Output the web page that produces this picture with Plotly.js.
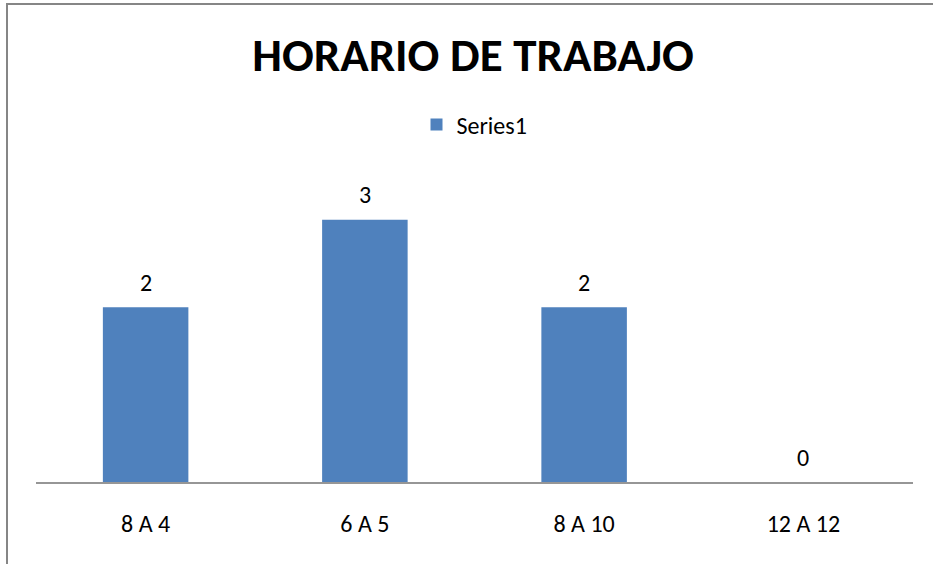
<!DOCTYPE html>
<html>
<head>
<meta charset="utf-8">
<script src="https://cdn.plot.ly/plotly-3.0.1.min.js"></script>
<style>
  body { margin: 0; background: #fff; }
  #wrap { position: relative; width: 933px; height: 564px; }
  #plot { width: 933px; height: 564px; }
  #frame { position: absolute; left: 6px; top: 3px; right: -10px; bottom: -10px;
           border-left: 2px solid #868686; border-top: 2px solid #868686; pointer-events: none; }
</style>
</head>
<body>
<div id="wrap">
  <div id="plot"></div>
  <div id="frame"></div>
</div>
<script>
const categories = ["8 A 4", "6 A 5", "8 A 10", "12 A 12"];
const values = [2, 3, 2, 0];
const series_name = "Series1";
const chart_title = "HORARIO DE TRABAJO";

const font_family = "Carlito, Calibri, 'Liberation Sans', Arial, sans-serif";

let data = [
    {
        type: "bar",
        x: categories,
        y: values,
        name: series_name,
        marker: { color: "#4F81BD" },
        hoverinfo: "none"
    }
];

let labels = categories.map((c, i) => ({
    x: c,
    y: values[i],
    text: String(values[i]),
    showarrow: false,
    yanchor: "middle",
    yshift: 25,
    font: { family: font_family, size: 24, color: "#000" }
}));

let layout = {
    width: 933,
    height: 564,
    margin: { l: 36, r: 20, t: 176, b: 82 },
    paper_bgcolor: "#fff",
    plot_bgcolor: "#fff",
    bargap: 0.61,
    title: {
        text: "<b>" + chart_title + "</b>",
        font: { family: font_family, size: 47, color: "#000" },
        x: 0.507,
        xanchor: "center",
        y: 1 - 55 / 564,
        yanchor: "middle"
    },
    showlegend: true,
    legend: {
        orientation: "h",
        x: 0.5,
        xanchor: "center",
        y: (482 - 125) / 306,
        yanchor: "middle",
        font: { family: font_family, size: 24, color: "#000" },
        itemwidth: 30
    },
    xaxis: {
        type: "category",
        showline: true,
        linecolor: "#969696",
        linewidth: 1.5,
        ticks: "",
        tickfont: { family: font_family, size: 24, color: "#000" },
        ticklabelstandoff: 20,
        fixedrange: true
    },
    yaxis: {
        range: [0, 3.5],
        visible: false,
        showgrid: false,
        zeroline: false,
        fixedrange: true
    },
    annotations: labels
};

let config = {
    staticPlot: true
};

Plotly.newPlot("plot", data, layout, config);
</script>
</body>
</html>
